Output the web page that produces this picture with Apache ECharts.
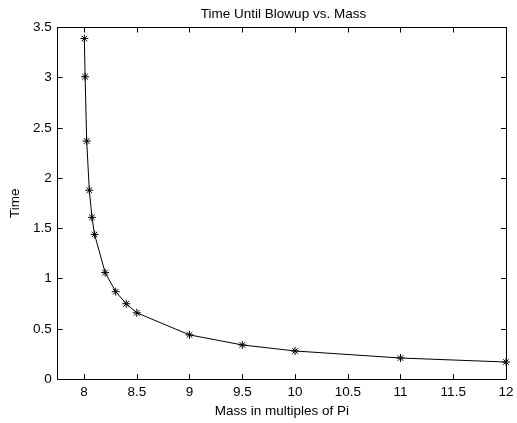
<!DOCTYPE html>
<html>
<head>
<meta charset="utf-8">
<script src="https://cdn.jsdelivr.net/npm/echarts@6/dist/echarts.min.js"></script>
<style>
html,body{margin:0;padding:0;background:#fff;}
#chart{width:517px;height:423px;}
</style>
</head>
<body>
<div id="chart"></div>
<script>
// Data
var massValues = [8.003, 8.01, 8.025, 8.05, 8.075, 8.1, 8.2, 8.3, 8.4, 8.5, 9, 9.5, 10, 11, 12];
var timeValues = [3.39, 3.01, 2.37, 1.88, 1.61, 1.44, 1.06, 0.87, 0.75, 0.66, 0.44, 0.34, 0.28, 0.21, 0.17];
var xTicks = [8, 8.5, 9, 9.5, 10, 10.5, 11, 11.5, 12];
var yTicks = [0, 0.5, 1, 1.5, 2, 2.5, 3, 3.5];
var titleText = 'Time Until Blowup vs. Mass';
var xName = 'Mass in multiples of Pi';
var yName = 'Time';

var FONT = 'Liberation Sans, Arial, Helvetica, sans-serif';
var FS = 13.5;

var points = massValues.map(function (m, i) { return [m, timeValues[i]]; });

function fmt(v) { return String(v); }

var chart = echarts.init(document.getElementById('chart'), null, {renderer: 'canvas'});
var tickStyle = {show: true, inside: true, length: 5, lineStyle: {color: '#000', width: 1}};
var lineStyle = {show: true, onZero: false, lineStyle: {color: '#000', width: 1}};

chart.setOption({
  animation: false,
  backgroundColor: '#fff',
  title: {
    text: titleText,
    left: 278.5,
    top: 2,
    textAlign: 'center',
    textStyle: {fontFamily: FONT, fontSize: FS, fontWeight: 'normal', color: '#000'}
  },
  grid: {left: 51, right: 11, top: 27.5, bottom: 36.5, containLabel: false, show: false},
  xAxis: [{
    type: 'value', position: 'bottom', min: 7.75, max: 12,
    name: xName, nameLocation: 'middle', nameGap: 17,
    nameTextStyle: {fontFamily: FONT, fontSize: FS, color: '#000'},
    axisLine: lineStyle,
    axisTick: Object.assign({customValues: xTicks}, tickStyle),
    axisLabel: {customValues: xTicks, formatter: fmt, margin: 6, fontFamily: FONT, fontSize: FS, color: '#000'},
    splitLine: {show: false}
  }, {
    type: 'value', position: 'top', min: 7.75, max: 12,
    axisLine: lineStyle,
    axisTick: Object.assign({customValues: xTicks}, tickStyle),
    axisLabel: {show: false},
    splitLine: {show: false}
  }],
  yAxis: [{
    type: 'value', position: 'left', min: 0, max: 3.5, interval: 0.5,
    name: yName, nameLocation: 'middle', nameGap: 31, nameRotate: 90,
    nameTextStyle: {fontFamily: FONT, fontSize: FS, color: '#000'},
    axisLine: lineStyle,
    axisTick: Object.assign({customValues: yTicks}, tickStyle),
    axisLabel: {customValues: yTicks, formatter: fmt, margin: 6, fontFamily: FONT, fontSize: FS, color: '#000'},
    splitLine: {show: false}
  }, {
    type: 'value', position: 'right', min: 0, max: 3.5, interval: 0.5,
    axisLine: lineStyle,
    axisTick: Object.assign({customValues: yTicks}, tickStyle),
    axisLabel: {show: false},
    splitLine: {show: false}
  }],
  series: [{
    type: 'line',
    xAxisIndex: 0, yAxisIndex: 0,
    data: points,
    symbol: 'path://M0,-1L0,1M-1,0L1,0M-0.7,-0.7L0.7,0.7M-0.7,0.7L0.7,-0.7',
    symbolSize: 8,
    showSymbol: true,
    showAllSymbol: true,
    itemStyle: {color: '#000', borderColor: '#000', borderWidth: 1},
    lineStyle: {color: '#000', width: 1},
    emphasis: {disabled: true}
  }]
});
</script>
</body>
</html>
